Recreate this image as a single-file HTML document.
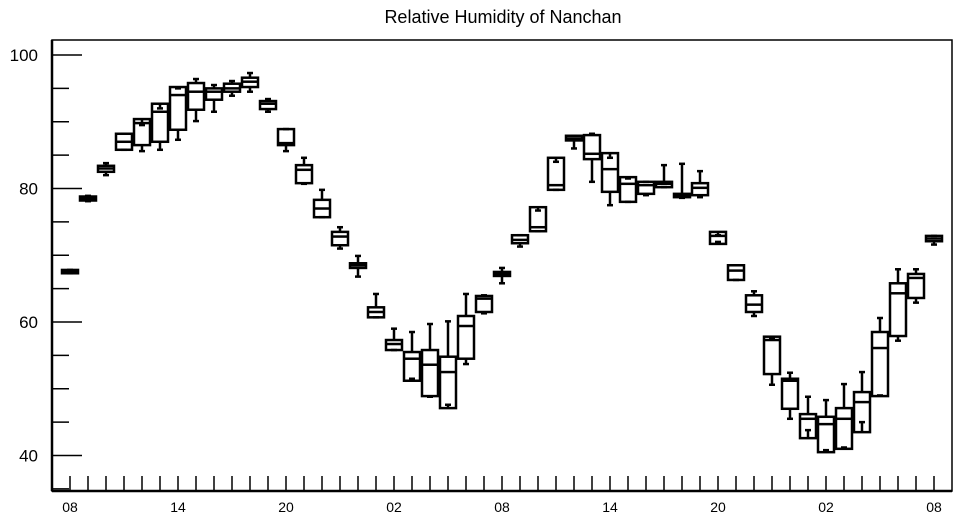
<!DOCTYPE html>
<html><head><meta charset="utf-8"><style>
body{margin:0;background:#fff}
svg{display:block;font-family:"Liberation Sans",sans-serif}
</style></head><body>
<svg id="chart" width="957" height="520" viewBox="0 0 957 520">
<text x="503" y="23" font-size="18" text-anchor="middle">Relative Humidity of Nanchan</text>
<g id="axes"></g><g id="boxes"></g>
</svg>
<script>
const hourLabels=["08","14","20","02","08","14","20","02","08"];
const yTicks=[40,60,80,100];
const lo =[67.3,78.1,82.0,85.8,85.6,85.8,87.3,90.1,91.5,93.9,94.5,91.5,85.6,80.7,75.7,71.0,66.8,60.7,55.8,51.5,48.8,47.6,53.7,61.3,65.8,71.3,73.6,79.8,86.0,81.0,77.5,78.0,79.0,80.2,78.6,78.7,72.0,66.3,60.9,50.6,45.5,43.8,40.8,41.2,45.0,49.0,57.2,62.9,71.6];
const q1 =[67.3,78.2,82.5,85.8,86.5,87.0,88.8,91.8,93.3,94.5,95.2,91.9,86.5,80.8,75.7,71.5,68.1,60.7,55.8,51.2,48.9,47.1,54.5,61.5,66.9,71.8,73.6,79.8,87.2,84.4,79.5,78.0,79.2,80.2,78.7,79.0,71.7,66.3,61.5,52.2,47.0,42.6,40.5,41.0,43.5,48.9,57.9,63.6,72.1];
const med=[67.5,78.5,83.0,87.0,89.8,91.5,94.0,94.5,94.5,95.0,96.0,92.7,86.8,82.8,77.0,72.8,68.5,61.5,56.7,54.5,53.6,52.5,59.4,63.5,67.2,72.3,74.2,80.5,87.5,85.2,82.9,80.7,80.5,80.7,79.0,80.1,72.9,67.7,62.6,57.3,51.2,45.5,44.7,45.5,48.0,56.1,64.3,66.6,72.5];
const q3 =[67.8,78.8,83.4,88.2,90.4,92.7,95.2,95.8,95.0,95.7,96.6,93.1,88.9,83.5,78.3,73.5,68.8,62.2,57.3,55.5,55.8,54.8,60.9,63.9,67.5,73.0,77.2,84.6,87.9,88.0,85.3,81.7,81.0,81.0,79.2,80.8,73.5,68.5,64.0,57.8,51.5,46.2,45.8,47.1,49.5,58.5,65.8,67.2,72.9];
const hi =[67.8,78.9,83.8,88.2,89.5,92.0,95.0,96.4,95.5,96.1,97.3,93.4,88.9,84.6,79.8,74.2,69.9,64.2,59.0,58.5,59.7,60.1,64.2,64.0,68.1,73.0,76.7,84.0,87.9,88.2,84.6,81.5,81.0,83.5,83.7,82.6,73.0,68.5,64.6,57.6,52.4,48.8,48.3,50.7,52.5,60.6,67.9,67.9,72.9];

const NS="http://www.w3.org/2000/svg";
const L=52,R=952,T=40,B=491;
function y(v){return 55+(100-v)*6.675;}
function x(i){return 70+18*i;}
function mk(parent,tag,attrs){const e=document.createElementNS(NS,tag);for(const k in attrs)e.setAttribute(k,attrs[k]);parent.appendChild(e);return e;}
const ax=document.getElementById('axes');
const frame=mk(ax,'rect',{x:L,y:T,width:R-L,height:B-T,fill:'none',stroke:'#000','stroke-width':1.5});


const yl=mk(ax,'line',{x1:L,y1:T,x2:L,y2:B,stroke:'#000','stroke-width':2.5});


const xl=mk(ax,'line',{x1:L,y1:B,x2:R,y2:B,stroke:'#000','stroke-width':2.5});


for(let v=35;v<=100;v+=5){
  const major=yTicks.includes(v);
  const t=mk(ax,'line',{x1:L,y1:y(v),x2:L+(major?30:17),y2:y(v),stroke:'#000','stroke-width':1.5});
  
  
}
yTicks.forEach(v=>{
  const t=mk(ax,'text',{x:38,y:y(v)+6,'font-size':17,'text-anchor':'end'});
  t.textContent=v;
  
  
});
for(let i=0;i<lo.length;i++){
  const t=mk(ax,'line',{x1:x(i),y1:B,x2:x(i),y2:B-15,stroke:'#000','stroke-width':1.5});
  
  
}
hourLabels.forEach((s,k)=>{
  const t=mk(ax,'text',{x:x(k*6),y:512,'font-size':14,'text-anchor':'middle'});
  t.textContent=s;
  
  
});
const bx=document.getElementById('boxes');
for(let i=0;i<lo.length;i++){
  const g=mk(bx,'g',{stroke:'#000','stroke-width':2.5,fill:'none'});
  
  
  const cx=x(i),w=8;
  mk(g,'line',{x1:cx,y1:y(hi[i]),x2:cx,y2:y(q3[i])});
  mk(g,'line',{x1:cx,y1:y(q1[i]),x2:cx,y2:y(lo[i])});
  mk(g,'line',{x1:cx-3,y1:y(hi[i]),x2:cx+3,y2:y(hi[i])});
  mk(g,'line',{x1:cx-3,y1:y(lo[i]),x2:cx+3,y2:y(lo[i])});
  mk(g,'rect',{x:cx-w,y:y(q3[i]),width:2*w,height:Math.max(1,y(q1[i])-y(q3[i]))});
  mk(g,'line',{x1:cx-w,y1:y(med[i]),x2:cx+w,y2:y(med[i])});
}
</script>
</body></html>
